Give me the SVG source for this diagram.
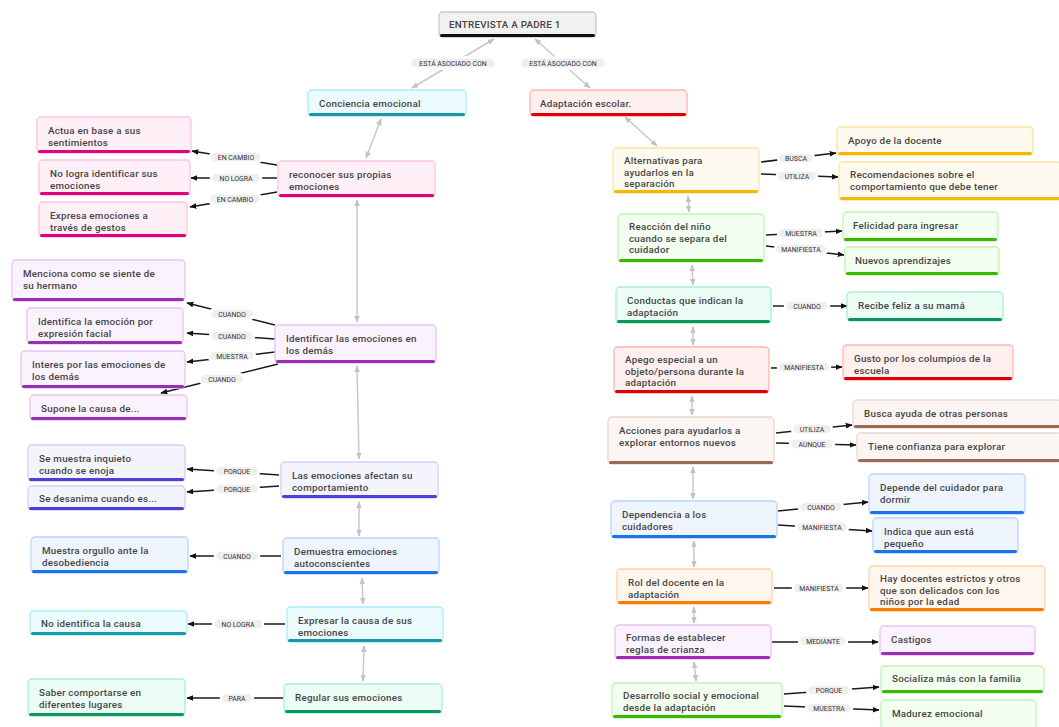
<svg xmlns="http://www.w3.org/2000/svg" width="1059" height="727" viewBox="0 0 1059 727">
<defs>
<marker id="ah" viewBox="0 0 10 10" refX="9" refY="5" markerWidth="7" markerHeight="7" markerUnits="userSpaceOnUse" orient="auto"><path d="M0,1 L10,5 L0,9 z" fill="#111"/></marker>
<marker id="gh" viewBox="0 0 10 10" refX="9" refY="5" markerWidth="7" markerHeight="7" markerUnits="userSpaceOnUse" orient="auto-start-reverse"><path d="M0,1 L10,5 L0,9 z" fill="#c2c2c2"/></marker>
</defs>
<style>
text{font-family:Roboto,"Liberation Sans",sans-serif;}
.node text{font-size:9.8px;font-weight:500;fill:#454545;letter-spacing:0.25px;}
.node .b{stroke-width:1.3;}
.lbl rect{fill:#efefef;stroke:#fff;stroke-width:2.5;}
.lbl text{font-size:6.9px;fill:#333;text-anchor:middle;font-weight:400;}
.c line{stroke:#1a1a1a;stroke-width:1.5;marker-end:url(#ah);}
.g line{stroke:#c8c8c8;stroke-width:1.5;marker-start:url(#gh);marker-end:url(#gh);}
.root .b{fill:#f1f1f1;stroke:#c9c9c9;} .root .bar{fill:#111;}
.cyan .b{fill:#ebfbfe;stroke:#a9eef8;} .cyan .bar{fill:#1a97a6;}
.red .b{fill:#fff0f0;stroke:#ffb4b4;} .red .bar{fill:#e00000;}
.pink .b{fill:#fff0f7;stroke:#ffc3df;} .pink .bar{fill:#e2007c;}
.purple .b{fill:#faf2fc;stroke:#e7c4f1;} .purple .bar{fill:#9c2db5;}
.indigo .b{fill:#f4f4fd;stroke:#d0d0f6;} .indigo .bar{fill:#4b40d8;}
.blue .b{fill:#eff5ff;stroke:#b8d5ff;} .blue .bar{fill:#1a73e8;}
.mint .b{fill:#ecfdf5;stroke:#a9f0d0;} .mint .bar{fill:#0e955a;}
.yellow .b{fill:#fffaf0;stroke:#ffe2a0;} .yellow .bar{fill:#f5b800;}
.lime .b{fill:#f3fff0;stroke:#c0f5b0;} .lime .bar{fill:#3db800;}
.brown .b{fill:#fbf6f4;stroke:#e9d9d1;} .brown .bar{fill:#9a6a55;}
.orange .b{fill:#fff6ee;stroke:#ffd3a8;} .orange .bar{fill:#ff7a00;}
</style>
<rect width="1059" height="727" fill="#fff"/>

<g id="connectors">
<g class="g">
<line x1="494" y1="39" x2="412" y2="88"/>
<line x1="535" y1="39" x2="590" y2="88"/>
<line x1="381" y1="119" x2="366" y2="158"/>
<line x1="625" y1="117" x2="657" y2="146"/>
<line x1="357" y1="200" x2="357" y2="322"/>
<line x1="357" y1="366" x2="359" y2="459"/>
<line x1="359" y1="502" x2="359" y2="536"/>
<line x1="362" y1="578" x2="363" y2="604"/>
<line x1="364" y1="646" x2="363" y2="681"/>
<line x1="688" y1="196" x2="689" y2="212"/>
<line x1="692" y1="265" x2="693" y2="285"/>
<line x1="693" y1="327" x2="693" y2="345"/>
<line x1="692" y1="396" x2="692" y2="415"/>
<line x1="693" y1="467" x2="693" y2="499"/>
<line x1="694" y1="541" x2="694" y2="567"/>
<line x1="694" y1="607" x2="694" y2="623"/>
<line x1="694" y1="662" x2="696" y2="681"/>
</g>
<g class="c">
<line x1="277" y1="165" x2="192" y2="151"/>
<line x1="277" y1="178" x2="191" y2="178"/>
<line x1="277" y1="192" x2="190" y2="207"/>
<line x1="275" y1="325" x2="187" y2="303"/>
<line x1="275" y1="339" x2="187" y2="333"/>
<line x1="275" y1="352" x2="187" y2="362"/>
<line x1="278" y1="364" x2="161" y2="393"/>
<line x1="279" y1="475" x2="187" y2="469"/>
<line x1="279" y1="486" x2="187" y2="492"/>
<line x1="281" y1="556" x2="190" y2="556"/>
<line x1="285" y1="624" x2="188" y2="624"/>
<line x1="283" y1="698" x2="187" y2="698"/>
<line x1="761" y1="162" x2="836" y2="153"/>
<line x1="761" y1="174" x2="838" y2="177"/>
<line x1="766" y1="235" x2="842" y2="231"/>
<line x1="766" y1="246" x2="844" y2="255"/>
<line x1="773" y1="306" x2="847" y2="306"/>
<line x1="771" y1="368" x2="842" y2="367"/>
<line x1="776" y1="433" x2="852" y2="425"/>
<line x1="776" y1="443" x2="856" y2="445"/>
<line x1="778" y1="511" x2="868" y2="502"/>
<line x1="778" y1="525" x2="872" y2="531"/>
<line x1="774" y1="588" x2="868" y2="588"/>
<line x1="772" y1="642" x2="878" y2="642"/>
<line x1="784" y1="694" x2="879" y2="687"/>
<line x1="784" y1="706" x2="879" y2="710"/>
</g>
<g id="labels">
<g class="lbl"><rect x="410" y="57.5" width="86" height="11" rx="5.5"/><text x="453" y="65.5">ESTÁ ASOCIADO CON</text></g>
<g class="lbl"><rect x="520" y="57.5" width="86" height="11" rx="5.5"/><text x="563" y="65.5">ESTÁ ASOCIADO CON</text></g>
<g class="lbl"><rect x="210" y="151.5" width="52" height="11" rx="5.5"/><text x="236" y="159.5">EN CAMBIO</text></g>
<g class="lbl"><rect x="211" y="172.5" width="50" height="11" rx="5.5"/><text x="236" y="180.5">NO LOGRA</text></g>
<g class="lbl"><rect x="209" y="193.5" width="52" height="11" rx="5.5"/><text x="235" y="201.5">EN CAMBIO</text></g>
<g class="lbl"><rect x="210" y="308.5" width="44" height="11" rx="5.5"/><text x="232" y="316.5">CUANDO</text></g>
<g class="lbl"><rect x="210" y="330.5" width="44" height="11" rx="5.5"/><text x="232" y="338.5">CUANDO</text></g>
<g class="lbl"><rect x="209" y="350.5" width="46" height="11" rx="5.5"/><text x="232" y="358.5">MUESTRA</text></g>
<g class="lbl"><rect x="200" y="373.5" width="44" height="11" rx="5.5"/><text x="222" y="381.5">CUANDO</text></g>
<g class="lbl"><rect x="215" y="465.5" width="44" height="11" rx="5.5"/><text x="237" y="473.5">PORQUE</text></g>
<g class="lbl"><rect x="215" y="483.5" width="44" height="11" rx="5.5"/><text x="237" y="491.5">PORQUE</text></g>
<g class="lbl"><rect x="215" y="550.5" width="44" height="11" rx="5.5"/><text x="237" y="558.5">CUANDO</text></g>
<g class="lbl"><rect x="213" y="618.5" width="50" height="11" rx="5.5"/><text x="238" y="626.5">NO LOGRA</text></g>
<g class="lbl"><rect x="221" y="692.5" width="32" height="11" rx="5.5"/><text x="237" y="700.5">PARA</text></g>
<g class="lbl"><rect x="778" y="152.5" width="36" height="11" rx="5.5"/><text x="796" y="160.5">BUSCA</text></g>
<g class="lbl"><rect x="777" y="170.5" width="40" height="11" rx="5.5"/><text x="797" y="178.5">UTILIZA</text></g>
<g class="lbl"><rect x="778" y="227.5" width="46" height="11" rx="5.5"/><text x="801" y="235.5">MUESTRA</text></g>
<g class="lbl"><rect x="775" y="243.5" width="52" height="11" rx="5.5"/><text x="801" y="251.5">MANIFIESTA</text></g>
<g class="lbl"><rect x="785" y="300.5" width="44" height="11" rx="5.5"/><text x="807" y="308.5">CUANDO</text></g>
<g class="lbl"><rect x="778" y="361.5" width="52" height="11" rx="5.5"/><text x="804" y="369.5">MANIFIESTA</text></g>
<g class="lbl"><rect x="792" y="423.5" width="40" height="11" rx="5.5"/><text x="812" y="431.5">UTILIZA</text></g>
<g class="lbl"><rect x="790" y="438.5" width="44" height="11" rx="5.5"/><text x="812" y="446.5">AUNQUE</text></g>
<g class="lbl"><rect x="799" y="501.5" width="44" height="11" rx="5.5"/><text x="821" y="509.5">CUANDO</text></g>
<g class="lbl"><rect x="796" y="521.5" width="52" height="11" rx="5.5"/><text x="822" y="529.5">MANIFIESTA</text></g>
<g class="lbl"><rect x="793" y="582.5" width="52" height="11" rx="5.5"/><text x="819" y="590.5">MANIFIESTA</text></g>
<g class="lbl"><rect x="799" y="635.5" width="48" height="11" rx="5.5"/><text x="823" y="643.5">MEDIANTE</text></g>
<g class="lbl"><rect x="807" y="684.5" width="44" height="11" rx="5.5"/><text x="829" y="692.5">PORQUE</text></g>
<g class="lbl"><rect x="806" y="702.5" width="46" height="11" rx="5.5"/><text x="829" y="710.5">MUESTRA</text></g>
</g>
</g>

<g id="root" class="node root"><rect class="b" x="439" y="12" width="157" height="25" rx="4"/><rect class="bar" x="440" y="34" width="155" height="3" rx="1.5"/><text x="449" y="28">ENTREVISTA A PADRE 1</text></g>
<g id="conciencia" class="node cyan"><rect class="b" x="308" y="90" width="158" height="26" rx="4"/><rect class="bar" x="309" y="113" width="156" height="3" rx="1.5"/><text x="319" y="107">Conciencia emocional</text></g>
<g id="adaptacion" class="node red"><rect class="b" x="530" y="90" width="157" height="26" rx="4"/><rect class="bar" x="531" y="113" width="155" height="3" rx="1.5"/><text x="540" y="107">Adaptación escolar.</text></g>

<g id="actua" class="node pink"><rect class="b" x="37" y="117" width="154" height="36" rx="4"/><rect class="bar" x="38" y="150" width="152" height="3" rx="1.5"/><text><tspan x="48" y="134">Actua en base a sus</tspan><tspan x="48" dy="11.8">sentimientos</tspan></text></g>
<g id="nologra" class="node pink"><rect class="b" x="39" y="160" width="151" height="35" rx="4"/><rect class="bar" x="40" y="192" width="149" height="3" rx="1.5"/><text><tspan x="50" y="177">No logra identificar sus</tspan><tspan x="50" dy="11.8">emociones</tspan></text></g>
<g id="expresa" class="node pink"><rect class="b" x="39" y="202" width="148" height="35" rx="4"/><rect class="bar" x="40" y="234" width="146" height="3" rx="1.5"/><text><tspan x="50" y="219">Expresa emociones a</tspan><tspan x="50" dy="11.8">través de gestos</tspan></text></g>
<g id="reconocer" class="node pink"><rect class="b" x="278" y="161" width="157" height="36" rx="4"/><rect class="bar" x="279" y="194" width="155" height="3" rx="1.5"/><text><tspan x="289" y="178">reconocer sus propias</tspan><tspan x="289" dy="11.8">emociones</tspan></text></g>

<g id="menciona" class="node purple"><rect class="b" x="12" y="260" width="173" height="41" rx="4"/><rect class="bar" x="13" y="298" width="171" height="3" rx="1.5"/><text><tspan x="23" y="277">Menciona como se siente de</tspan><tspan x="23" dy="11.8">su hermano</tspan></text></g>
<g id="identifica" class="node purple"><rect class="b" x="27" y="308" width="156" height="36" rx="4"/><rect class="bar" x="28" y="341" width="154" height="3" rx="1.5"/><text><tspan x="38" y="325">Identifica la emoción por</tspan><tspan x="38" dy="11.8">expresión facial</tspan></text></g>
<g id="interes" class="node purple"><rect class="b" x="21" y="351" width="164" height="37" rx="4"/><rect class="bar" x="22" y="385" width="162" height="3" rx="1.5"/><text><tspan x="32" y="368">Interes por las emociones de</tspan><tspan x="32" dy="11.8">los demás</tspan></text></g>
<g id="supone" class="node purple"><rect class="b" x="30" y="395" width="157" height="25" rx="4"/><rect class="bar" x="31" y="417" width="155" height="3" rx="1.5"/><text x="41" y="412">Supone la causa de...</text></g>
<g id="identificar" class="node purple"><rect class="b" x="275" y="325" width="161" height="38" rx="4"/><rect class="bar" x="276" y="360" width="159" height="3" rx="1.5"/><text><tspan x="286" y="342">Identificar las emociones en</tspan><tspan x="286" dy="11.8">los demás</tspan></text></g>

<g id="semuestra" class="node indigo"><rect class="b" x="28" y="445" width="157" height="36" rx="4"/><rect class="bar" x="29" y="478" width="155" height="3" rx="1.5"/><text><tspan x="39" y="462">Se muestra inquieto</tspan><tspan x="39" dy="11.8">cuando se enoja</tspan></text></g>
<g id="sedesanima" class="node indigo"><rect class="b" x="28" y="486" width="157" height="24" rx="4"/><rect class="bar" x="29" y="507" width="155" height="3" rx="1.5"/><text x="39" y="502">Se desanima cuando es...</text></g>
<g id="lasemociones" class="node indigo"><rect class="b" x="281" y="462" width="157" height="36" rx="4"/><rect class="bar" x="282" y="495" width="155" height="3" rx="1.5"/><text><tspan x="292" y="479">Las emociones afectan su</tspan><tspan x="292" dy="11.8">comportamiento</tspan></text></g>

<g id="orgullo" class="node blue"><rect class="b" x="31" y="537" width="157" height="36" rx="4"/><rect class="bar" x="32" y="570" width="155" height="3" rx="1.5"/><text><tspan x="42" y="554">Muestra orgullo ante la</tspan><tspan x="42" dy="11.8">desobediencia</tspan></text></g>
<g id="demuestra" class="node blue"><rect class="b" x="283" y="538" width="156" height="36" rx="4"/><rect class="bar" x="284" y="571" width="154" height="3" rx="1.5"/><text><tspan x="294" y="555">Demuestra emociones</tspan><tspan x="294" dy="11.8">autoconscientes</tspan></text></g>

<g id="noidentifica" class="node cyan"><rect class="b" x="30" y="611" width="157" height="24" rx="4"/><rect class="bar" x="31" y="632" width="155" height="3" rx="1.5"/><text x="41" y="627">No identifica la causa</text></g>
<g id="expresar" class="node cyan"><rect class="b" x="287" y="607" width="156" height="35" rx="4"/><rect class="bar" x="288" y="639" width="154" height="3" rx="1.5"/><text><tspan x="298" y="624">Expresar la causa de sus</tspan><tspan x="298" dy="11.8">emociones</tspan></text></g>

<g id="saber" class="node mint"><rect class="b" x="28" y="679" width="157" height="37" rx="4"/><rect class="bar" x="29" y="713" width="155" height="3" rx="1.5"/><text><tspan x="39" y="696">Saber comportarse en</tspan><tspan x="39" dy="11.8">diferentes lugares</tspan></text></g>
<g id="regular" class="node mint"><rect class="b" x="284" y="684" width="158" height="29" rx="4"/><rect class="bar" x="285" y="710" width="156" height="3" rx="1.5"/><text x="295" y="701">Regular sus emociones</text></g>

<g id="alternativas" class="node yellow"><rect class="b" x="613" y="148" width="146" height="45" rx="4"/><rect class="bar" x="614" y="190" width="144" height="3" rx="1.5"/><text><tspan x="624" y="164">Alternativas para</tspan><tspan x="624" dy="11.6">ayudarlos en la</tspan><tspan x="624" dy="11.6">separación</tspan></text></g>
<g id="apoyo" class="node yellow"><rect class="b" x="837" y="127" width="196" height="28" rx="4"/><rect class="bar" x="838" y="152" width="194" height="3" rx="1.5"/><text x="848" y="144">Apoyo de la docente</text></g>
<g id="recomendaciones" class="node yellow"><rect class="b" x="839" y="162" width="222" height="38" rx="4"/><rect class="bar" x="840" y="197" width="220" height="3" rx="1.5"/><text><tspan x="850" y="178">Recomendaciones sobre el</tspan><tspan x="850" dy="11.8">comportamiento que debe tener</tspan></text></g>

<g id="reaccion" class="node lime"><rect class="b" x="618" y="214" width="146" height="48" rx="4"/><rect class="bar" x="619" y="259" width="144" height="3" rx="1.5"/><text><tspan x="629" y="230">Reacción del niño</tspan><tspan x="629" dy="11.6">cuando se separa del</tspan><tspan x="629" dy="11.6">cuidador</tspan></text></g>
<g id="felicidad" class="node lime"><rect class="b" x="843" y="212" width="155" height="29" rx="4"/><rect class="bar" x="844" y="238" width="153" height="3" rx="1.5"/><text x="853" y="229">Felicidad para ingresar</text></g>
<g id="nuevos" class="node lime"><rect class="b" x="845" y="247" width="154" height="28" rx="4"/><rect class="bar" x="846" y="272" width="152" height="3" rx="1.5"/><text x="855" y="264">Nuevos aprendizajes</text></g>

<g id="conductas" class="node mint"><rect class="b" x="616" y="287" width="155" height="36" rx="4"/><rect class="bar" x="617" y="320" width="153" height="3" rx="1.5"/><text><tspan x="627" y="304">Conductas que indican la</tspan><tspan x="627" dy="11.8">adaptación</tspan></text></g>
<g id="recibe" class="node mint"><rect class="b" x="847" y="292" width="156" height="29" rx="4"/><rect class="bar" x="848" y="318" width="154" height="3" rx="1.5"/><text x="858" y="309">Recibe feliz a su mamá</text></g>

<g id="apego" class="node red"><rect class="b" x="614" y="347" width="155" height="46" rx="4"/><rect class="bar" x="615" y="390" width="153" height="3" rx="1.5"/><text><tspan x="625" y="363">Apego especial a un</tspan><tspan x="625" dy="11.6">objeto/persona durante la</tspan><tspan x="625" dy="11.6">adaptación</tspan></text></g>
<g id="gusto" class="node red"><rect class="b" x="843" y="345" width="170" height="35" rx="4"/><rect class="bar" x="844" y="377" width="168" height="3" rx="1.5"/><text><tspan x="854" y="362">Gusto por los columpios de la</tspan><tspan x="854" dy="11.8">escuela</tspan></text></g>

<g id="acciones" class="node brown"><rect class="b" x="608" y="417" width="166" height="47" rx="4"/><rect class="bar" x="609" y="461" width="164" height="3" rx="1.5"/><text><tspan x="619" y="434">Acciones para ayudarlos a</tspan><tspan x="619" dy="11.8">explorar entornos nuevos</tspan></text></g>
<g id="busca" class="node brown"><rect class="b" x="853" y="400" width="208" height="28" rx="4"/><rect class="bar" x="854" y="425" width="206" height="3" rx="1.5"/><text x="864" y="417">Busca ayuda de otras personas</text></g>
<g id="tiene" class="node brown"><rect class="b" x="857" y="433" width="204" height="29" rx="4"/><rect class="bar" x="858" y="459" width="202" height="3" rx="1.5"/><text x="868" y="450">Tiene confianza para explorar</text></g>

<g id="dependencia" class="node blue"><rect class="b" x="611" y="501" width="166" height="37" rx="4"/><rect class="bar" x="612" y="535" width="164" height="3" rx="1.5"/><text><tspan x="622" y="518">Dependencia a los</tspan><tspan x="622" dy="11.8">cuidadores</tspan></text></g>
<g id="depende" class="node blue"><rect class="b" x="869" y="474" width="156" height="40" rx="4"/><rect class="bar" x="870" y="511" width="154" height="3" rx="1.5"/><text><tspan x="880" y="491">Depende del cuidador para</tspan><tspan x="880" dy="11.8">dormir</tspan></text></g>
<g id="indica" class="node blue"><rect class="b" x="873" y="518" width="145" height="35" rx="4"/><rect class="bar" x="874" y="550" width="143" height="3" rx="1.5"/><text><tspan x="884" y="535">Indica que aun está</tspan><tspan x="884" dy="11.8">pequeño</tspan></text></g>

<g id="rol" class="node orange"><rect class="b" x="617" y="569" width="155" height="35" rx="4"/><rect class="bar" x="618" y="601" width="153" height="3" rx="1.5"/><text><tspan x="628" y="586">Rol del docente en la</tspan><tspan x="628" dy="11.8">adaptación</tspan></text></g>
<g id="hay" class="node orange"><rect class="b" x="869" y="566" width="176" height="45" rx="4"/><rect class="bar" x="870" y="608" width="174" height="3" rx="1.5"/><text><tspan x="880" y="582">Hay docentes estrictos y otros</tspan><tspan x="880" dy="11.6">que son delicados con los</tspan><tspan x="880" dy="11.6">niños por la edad</tspan></text></g>

<g id="formas" class="node purple"><rect class="b" x="615" y="625" width="156" height="34" rx="4"/><rect class="bar" x="616" y="656" width="154" height="3" rx="1.5"/><text><tspan x="626" y="641">Formas de establecer</tspan><tspan x="626" dy="11.8">reglas de crianza</tspan></text></g>
<g id="castigos" class="node purple"><rect class="b" x="880" y="626" width="155" height="29" rx="4"/><rect class="bar" x="881" y="652" width="153" height="3" rx="1.5"/><text x="891" y="643">Castigos</text></g>

<g id="desarrollo" class="node lime"><rect class="b" x="612" y="683" width="170" height="35" rx="4"/><rect class="bar" x="613" y="715" width="168" height="3" rx="1.5"/><text><tspan x="623" y="699">Desarrollo social y emocional</tspan><tspan x="623" dy="11.8">desde la adaptación</tspan></text></g>
<g id="socializa" class="node lime"><rect class="b" x="881" y="666" width="163" height="27" rx="4"/><rect class="bar" x="882" y="690" width="161" height="3" rx="1.5"/><text x="892" y="682">Socializa más con la familia</text></g>
<g id="madurez" class="node lime"><rect class="b" x="881" y="700" width="155" height="30" rx="4"/><rect class="bar" x="882" y="727" width="153" height="3" rx="1.5"/><text x="892" y="717">Madurez emocional</text></g>
</svg>
